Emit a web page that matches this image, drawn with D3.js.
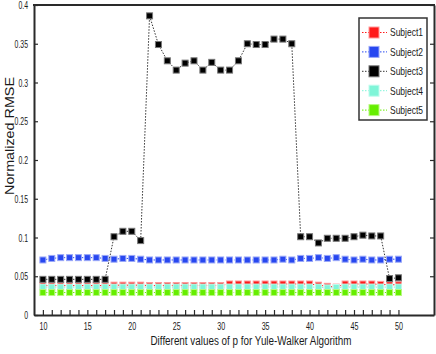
<!DOCTYPE html>
<html>
<head>
<meta charset="utf-8">
<script src="https://cdn.jsdelivr.net/npm/d3@7"></script>
<style>
  body { margin: 0; background: #fff; }
  svg { display: block; }
  text { font-family: "Liberation Sans", Arial, sans-serif; fill: #1a1a1a; }
  .axis text { font-size: 11.5px; }
  .axis path, .axis line { stroke: #2a2a2a; }
</style>
</head>
<body>
<div id="chart"></div>
<script>
// values of p (x axis)
const pValues = d3.range(10, 51);

// series, one value per p (10..50)
const subject1 = [0.038,0.038,0.038,0.038,0.038,0.038,0.038,0.038,
  0.0385,0.0385,0.0385,0.0385,
  0.038,0.038,0.038,0.038,0.038,0.038,0.038,0.038,0.038,
  0.040,0.040,0.040,0.040,0.040,0.040,0.040,0.040,0.040,0.040,
  0.0385,0.037,0.036,0.040,0.040,0.040,0.040,0.0395,0.039,0.039];
const subject2 = [0.071,0.073,0.074,0.074,0.074,0.074,0.074,0.073,0.072,0.073,
  0.073,0.072,0.071,0.071,0.071,0.071,0.071,0.071,0.071,0.071,
  0.071,0.071,0.071,0.071,0.071,0.071,0.071,0.072,0.071,0.073,
  0.073,0.074,0.073,0.074,0.072,0.071,0.072,0.071,0.071,0.072,0.072];
const subject3 = [0.046,0.046,0.046,0.046,0.046,0.046,0.046,0.046,
  0.101,0.108,0.108,0.096,
  0.386,0.349,0.328,0.316,0.325,0.328,0.316,0.326,0.316,0.316,0.328,0.350,0.349,0.349,0.356,0.356,0.350,
  0.101,0.101,0.093,0.099,0.099,0.099,0.101,0.103,0.102,0.102,
  0.047,0.048];
const subject4 = [0.036,0.036,0.036,0.036,0.036,0.036,0.036,0.036,0.036,0.036,
  0.036,0.036,0.036,0.036,0.036,0.036,0.036,0.036,0.036,0.036,
  0.036,0.036,0.036,0.036,0.036,0.036,0.036,0.036,0.036,0.036,
  0.036,0.036,0.035,0.0355,0.036,0.036,0.036,0.036,0.036,0.036,0.036];
const subject5 = [0.029,0.029,0.029,0.029,0.029,0.029,0.029,0.029,0.029,0.029,
  0.029,0.029,0.029,0.029,0.029,0.029,0.029,0.029,0.029,0.029,
  0.029,0.029,0.029,0.029,0.029,0.029,0.029,0.029,0.029,0.029,
  0.029,0.029,0.029,0.029,0.029,0.029,0.029,0.029,0.029,0.029,0.029];

const seriesNames = ["Subject1", "Subject2", "Subject3", "Subject4", "Subject5"];
const seriesValues = [subject1, subject2, subject3, subject4, subject5];
const colours = ["#ff1a1a", "#2747f0", "#000000", "#7ff5d8", "#66ee00"];
const halos = ["#ff9a9a", "#9aa8f8", "#777777", "#c0fbee", "#b8f880"];

const yTicks = [0, 0.05, 0.1, 0.15, 0.2, 0.25, 0.3, 0.35, 0.4];

const W = 436, H = 354;
const margin = {top: 5, right: 2, bottom: 39, left: 34};

const svg = d3.select("#chart").append("svg")
  .attr("width", W)
  .attr("height", H);

// the original uses a very narrow font, squeeze the glyphs horizontally
function squeeze(sel, f) {
  sel.each(function() {
    const w = this.getComputedTextLength();
    if (w > 0) {
      d3.select(this)
        .attr("textLength", w * f)
        .attr("lengthAdjust", "spacingAndGlyphs");
    }
  });
}

const x = d3.scaleLinear().domain([9, 54]).range([margin.left, W - margin.right]);
const y = d3.scaleLinear().domain([0, 0.4]).range([H - margin.bottom, margin.top]);

// bottom axis, minor ticks every 1, labels every 5
svg.append("g")
  .attr("class", "axis")
  .attr("transform", `translate(0,${y(0)})`)
  .call(d3.axisBottom(x)
    .tickValues(pValues)
    .tickSize(-5)
    .tickSizeOuter(0)
    .tickPadding(7)
    .tickFormat(d => d % 5 === 0 ? d : ""))
  .call(g => g.select(".domain").attr("stroke-width", 2))
  .call(g => g.selectAll(".tick line").attr("stroke-width", 1.2))
  .call(g => squeeze(g.selectAll(".tick text"), 0.62));

// left axis
svg.append("g")
  .attr("class", "axis")
  .attr("transform", `translate(${x(9)},0)`)
  .call(d3.axisLeft(y)
    .tickValues(yTicks)
    .tickSize(-4)
    .tickSizeOuter(0)
    .tickPadding(6)
    .tickFormat(d => String(+d.toFixed(2))))
  .call(g => g.select(".domain").attr("stroke-width", 2))
  .call(g => g.selectAll(".tick line").attr("stroke-width", 1.2))
  .call(g => squeeze(g.selectAll(".tick text"), 0.6));

// right axis (ticks only)
svg.append("g")
  .attr("class", "axis")
  .attr("transform", `translate(${x(54)},0)`)
  .call(d3.axisRight(y)
    .tickValues(yTicks)
    .tickSize(-4)
    .tickSizeOuter(0)
    .tickFormat(""))
  .call(g => g.select(".domain").attr("stroke-width", 2))
  .call(g => g.selectAll(".tick line").attr("stroke-width", 1.2));

// top frame line
svg.append("line")
  .attr("x1", x(9) - 1).attr("x2", x(54) + 1)
  .attr("y1", y(0.4)).attr("y2", y(0.4))
  .attr("stroke", "#2a2a2a")
  .attr("stroke-width", 2);

// series
const line = d3.line()
  .x((d, i) => x(pValues[i]))
  .y(d => y(d));

const ms = 6;
seriesValues.forEach((vals, k) => {
  const g = svg.append("g");
  g.append("path")
    .datum(vals)
    .attr("fill", "none")
    .attr("stroke", k === 2 ? "#333" : colours[k])
    .attr("stroke-width", 1)
    .attr("stroke-dasharray", "1.5,1.5")
    .attr("d", line);
  g.selectAll("rect")
    .data(vals)
    .join("rect")
    .attr("x", (d, i) => x(pValues[i]) - ms / 2)
    .attr("y", d => y(d) - ms / 2)
    .attr("width", ms)
    .attr("height", ms)
    .attr("fill", colours[k])
    .attr("stroke", halos[k])
    .attr("stroke-width", 1);
});

// legend
const legend = svg.append("g").attr("transform", "translate(359,18)");
legend.append("rect")
  .attr("width", 68).attr("height", 102)
  .attr("fill", "#fff")
  .attr("stroke", "#333")
  .attr("stroke-width", 1.5);

const items = legend.selectAll(".item")
  .data(seriesNames)
  .join("g")
  .attr("class", "item")
  .attr("transform", (d, i) => `translate(0,${14.5 + i * 19.4})`);

items.append("line")
  .attr("x1", 3).attr("x2", 28)
  .attr("stroke", (d, i) => i === 2 ? "#333" : colours[i])
  .attr("stroke-width", 1)
  .attr("stroke-dasharray", "1.5,1.5");
items.append("rect")
  .attr("x", 10).attr("y", -5.5)
  .attr("width", 10).attr("height", 11)
  .attr("fill", (d, i) => colours[i])
  .attr("stroke", (d, i) => halos[i])
  .attr("stroke-width", 1);
items.append("text")
  .attr("x", 31)
  .attr("dy", "0.36em")
  .style("font-size", "11px")
  .attr("textLength", 33)
  .attr("lengthAdjust", "spacingAndGlyphs")
  .text(d => d);

// axis titles
svg.append("text")
  .attr("x", 251)
  .attr("y", 345)
  .attr("text-anchor", "middle")
  .style("font-size", "12px")
  .attr("textLength", 201)
  .attr("lengthAdjust", "spacingAndGlyphs")
  .text("Different values of p for Yule-Walker Algorithm");

svg.append("text")
  .attr("transform", "translate(14,136) rotate(-90)")
  .attr("text-anchor", "middle")
  .style("font-size", "13.5px")
  .attr("textLength", 118)
  .attr("lengthAdjust", "spacingAndGlyphs")
  .text("Normalized RMSE");
</script>
</body>
</html>
